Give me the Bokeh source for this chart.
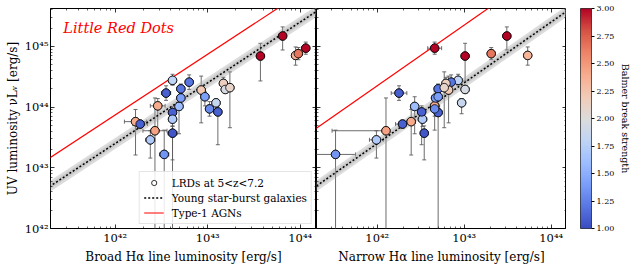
import numpy as np
from bokeh.plotting import figure
from bokeh.models import (LogAxis, FixedTicker, CustomJSTickFormatter, ColumnDataSource,
                          Whisker, TeeHead, LinearColorMapper, Legend, LegendItem, Label,
                          NumeralTickFormatter)
from bokeh.layouts import row
from bokeh.transform import linear_cmap
from bokeh.embed import file_html
from bokeh.resources import INLINE

# ---------------- data (log10 of luminosities in erg/s) ----------------
log_uv = [43.76, 43.72, 44.02, 43.61, 44.23, 44.44, 43.91, 43.80, 43.57, 44.01,
          44.15, 44.30, 44.41, 44.28, 44.17, 43.97, 44.07, 43.92, 44.39, 44.29,
          44.32, 44.84, 45.17, 44.85, 44.88, 44.97, 43.46, 43.22]
uv_err_lo = [0.55, 0.06, 0.40, 2.00, 0.12, 0.08, 2.00, 0.12, 0.44, 0.45,
             0.10, 0.08, 0.12, 0.54, 0.15, 0.12, 0.18, 0.54, 0.10, 0.06,
             0.66, 0.41, 0.23, 0.16, 0.10, 0.10, 0.30, 2.00]
uv_err_hi = [0.20, 0.06, 0.12, 0.54, 0.12, 0.10, 0.10, 0.12, 0.12, 0.16,
             0.10, 0.08, 0.12, 0.23, 0.08, 0.12, 0.07, 0.10, 0.10, 0.06,
             0.26, 0.21, 0.15, 0.14, 0.10, 0.10, 0.15, 0.40]
log_broad = [42.22, 42.27, 42.46, 42.43, 42.55, 42.62, 42.62, 42.62, 42.62, 42.69,
             42.71, 42.71, 42.80, 42.93, 42.97, 43.02, 43.09, 43.11, 43.17, 43.19,
             43.24, 43.57, 43.81, 43.95, 43.98, 44.06, 42.38, 42.53]
broad_err = [0.12, 0.08, 0.08, 0.13, 0.05, 0.04, 0.04, 0.04, 0.05, 0.04,
             0.04, 0.04, 0.04, 0.04, 0.04, 0.04, 0.04, 0.04, 0.04, 0.04,
             0.04, 0.04, 0.04, 0.04, 0.04, 0.04, 0.05, 0.05]
log_narrow = [42.39, 42.29, 42.66, 42.10, 42.25, 42.93, 42.70, 42.52, 42.54, 42.43,
              42.67, 42.70, 42.85, 42.82, 42.70, 42.66, 42.97, 42.51, 42.79, 43.01,
              42.77, 43.01, 43.49, 43.73, 43.31, 42.66, 41.99, 41.52]
narrow_err_lo = [0.05, 0.08, 0.05, 0.62, 0.09, 0.04, 0.04, 0.05, 0.04, 0.04,
                 0.04, 0.04, 0.04, 0.04, 0.04, 0.04, 0.04, 0.04, 0.04, 0.04,
                 0.04, 0.04, 0.04, 0.04, 0.04, 0.08, 0.08, 1.00]
narrow_err_hi = [0.05, 0.08, 0.05, 0.04, 0.09, 0.04, 0.04, 0.05, 0.04, 0.04,
                 0.04, 0.04, 0.04, 0.04, 0.04, 0.04, 0.04, 0.04, 0.04, 0.04,
                 0.04, 0.04, 0.04, 0.04, 0.04, 0.08, 0.08, 0.23]
balmer = [2.40, 1.10, 2.40, 2.45, 1.10, 1.80, 1.10, 1.70, 1.05, 1.60,
          1.40, 1.20, 1.20, 2.20, 1.40, 1.30, 1.85, 1.10, 2.15, 1.95,
          2.10, 3.00, 3.00, 2.35, 2.65, 3.00, 1.70, 1.35]

# relations: log L_UV = log L_Halpha + offset
starburst_offset = 1.40
starburst_width = 0.09
agn_offset_broad = 1.87
agn_offset_narrow = 2.35

x_major = [1e42, 1e43, 1e44]
y_major = [1e42, 1e43, 1e44, 1e45]
cbar_ticks = [1.00, 1.25, 1.50, 1.75, 2.00, 2.25, 2.50, 2.75, 3.00]
x_lim = (2e41, 1.5e44)
y_lim = (1e42, 4.2e45)

FONT = "DejaVu Serif"

# matplotlib coolwarm (11 samples) -> 256 colours
cw = ['#3b4cc0', '#5977e3', '#7b9ff9', '#9ebeff', '#c0d4f5', '#dddcdc',
      '#f2cbb7', '#f7ac8e', '#ee8468', '#d65244', '#b40426']
def _rgb(h):
    return np.array([int(h[i:i + 2], 16) for i in (1, 3, 5)], float)
anch = np.array([_rgb(h) for h in cw])
pos = np.linspace(0, 1, len(cw))
t = np.linspace(0, 1, 256)
coolwarm = ['#%02x%02x%02x' % tuple(int(round(np.interp(v, pos, anch[:, k]))) for k in range(3)) for v in t]
mapper = LinearColorMapper(palette=coolwarm, low=1.0, high=3.0)

minor = [k * 10.0 ** n for n in range(40, 47) for k in range(2, 10)]

sup_code = """
const sup = {"0":"\u2070","1":"\u00b9","2":"\u00b2","3":"\u00b3","4":"\u2074","5":"\u2075","6":"\u2076","7":"\u2077","8":"\u2078","9":"\u2079","-":"\u207b"};
const e = Math.round(Math.log10(tick));
return "10" + String(e).split("").map(c => sup[c]).join("");
"""

H = 266
TOP = 8
BOTTOM = 37


def style_axis(ax, ticks, labels=True):
    ax.ticker = FixedTicker(ticks=ticks, minor_ticks=minor)
    ax.major_tick_in = 4
    ax.major_tick_out = 0
    ax.minor_tick_in = 2
    ax.minor_tick_out = 0
    ax.axis_line_color = None
    ax.major_tick_line_color = "black"
    ax.minor_tick_line_color = "black"
    ax.major_tick_line_width = 0.8
    ax.minor_tick_line_width = 0.6
    if labels:
        ax.formatter = CustomJSTickFormatter(code=sup_code)
        ax.major_label_text_font = FONT
        ax.major_label_text_font_size = "11.5px"
        ax.major_label_text_color = "black"
        ax.major_label_standoff = 2
        ax.axis_label_text_font = FONT
        ax.axis_label_text_font_size = "12px"
        ax.axis_label_text_font_style = "normal"
        ax.axis_label_text_color = "black"
        ax.axis_label_standoff = 2
    else:
        ax.formatter = CustomJSTickFormatter(code="return ''")
        ax.major_label_text_font_size = "0px"
        ax.major_label_standoff = 0


def make_panel(log_x, xerr_lo, xerr_hi, agn_offset, xlabel, width, left_border, ylabel=None):
    p = figure(width=width, height=H, x_axis_type="log", y_axis_type="log",
               x_range=x_lim, y_range=y_lim, toolbar_location=None, output_backend="svg",
               min_border_left=left_border, min_border_right=0, min_border_top=TOP,
               min_border_bottom=BOTTOM)
    p.grid.visible = False
    p.outline_line_color = "black"
    p.outline_line_width = 1
    p.background_fill_color = "white"
    p.border_fill_color = "white"

    style_axis(p.xaxis[0], x_major, True)
    p.xaxis[0].axis_label = xlabel
    style_axis(p.yaxis[0], y_major, ylabel is not None)
    if ylabel:
        p.yaxis[0].axis_label = ylabel
    top = LogAxis()
    style_axis(top, x_major, False)
    p.add_layout(top, "above")
    right = LogAxis()
    style_axis(right, y_major, False)
    p.add_layout(right, "right")

    lx = np.array(log_x)
    ly = np.array(log_uv)
    # model lines over the full x range
    xs = np.array([x_lim[0] * 0.5, x_lim[1] * 2])
    lxs = np.log10(xs)
    p.varea(x=xs, y1=10 ** (lxs + starburst_offset - starburst_width),
            y2=10 ** (lxs + starburst_offset + starburst_width), fill_color="#9a9a9a", fill_alpha=0.35)
    p.varea(x=xs, y1=10 ** (lxs + starburst_offset - starburst_width / 2),
            y2=10 ** (lxs + starburst_offset + starburst_width / 2), fill_color="#9a9a9a", fill_alpha=0.3)
    sb = p.line(x=xs, y=10 ** (lxs + starburst_offset), line_color="black", line_width=1.5,
                line_dash="2 2")
    agn = p.line(x=xs, y=10 ** (lxs + agn_offset), line_color="#ff0000", line_width=1.2)

    src = ColumnDataSource(dict(
        x=10 ** lx, y=10 ** ly,
        xlo=10 ** (lx - np.array(xerr_lo)), xhi=10 ** (lx + np.array(xerr_hi)),
        ylo=10 ** (ly - np.array(uv_err_lo)), yhi=10 ** (ly + np.array(uv_err_hi)),
        c=balmer))
    ec = "#5c5c5c"
    for dim, base, lo, hi in (("height", "x", "ylo", "yhi"), ("width", "y", "xlo", "xhi")):
        w = Whisker(source=src, base=base, lower=lo, upper=hi, dimension=dim,
                    line_color=ec, line_width=0.9,
                    upper_head=TeeHead(size=4, line_color=ec, line_width=0.9),
                    lower_head=TeeHead(size=4, line_color=ec, line_width=0.9))
        p.add_layout(w)
    # open-circle layer (legend symbol), hidden under the coloured markers
    openc = p.scatter(x="x", y="y", source=src, size=8.5, marker="circle",
                      fill_color="white", line_color="black", line_width=0.8)
    p.scatter(x="x", y="y", source=src, size=8.5, marker="circle",
              fill_color=linear_cmap("c", coolwarm, 1.0, 3.0), line_color="black", line_width=0.8)
    return p, sb, agn, openc


left, sb_l, agn_l, open_l = make_panel(log_broad, broad_err, broad_err, agn_offset_broad,
                                       "Broad H\u03b1 line luminosity [erg/s]", 316, 50,
                                       ylabel="UV luminosity \u03bdL\u1d65 [erg/s]")
right, _, _, _ = make_panel(log_narrow, narrow_err_lo, narrow_err_hi, agn_offset_narrow,
                            "Narrow H\u03b1 line luminosity [erg/s]", 250, 0)

left.add_layout(Label(x=2.75e41, y=2.75e45, text="Little Red Dots", text_color="#ff0000",
                      text_font=FONT, text_font_style="italic", text_font_size="14.5px",
                      text_baseline="top"))

# legend
legend = Legend(items=[LegendItem(label="LRDs at 5<z<7.2", renderers=[open_l]),
                       LegendItem(label="Young star-burst galaxies", renderers=[sb_l]),
                       LegendItem(label="Type-1 AGNs", renderers=[agn_l])],
                location="bottom_right")
legend.label_text_font = FONT
legend.label_text_font_size = "10.5px"
legend.label_text_color = "black"
legend.glyph_width = 20
legend.glyph_height = 13
legend.label_height = 13
legend.label_standoff = 8
legend.spacing = 2
legend.padding = 4
legend.margin = 4
legend.border_line_color = "#cccccc"
legend.background_fill_alpha = 0.85
left.add_layout(legend, "center")

# colour bar
cb = figure(width=68, height=H, x_range=(0, 1), y_range=(cbar_ticks[0], cbar_ticks[-1]),
            toolbar_location=None, output_backend="svg", y_axis_location="right",
            min_border_left=14, min_border_right=0, min_border_top=TOP, min_border_bottom=BOTTOM)
cb.grid.visible = False
cb.xaxis.visible = False
cb.outline_line_color = "#333333"
cb.image(image=[np.linspace(cbar_ticks[0], cbar_ticks[-1], 256).reshape(256, 1)],
         x=0, y=cbar_ticks[0], dw=1, dh=cbar_ticks[-1] - cbar_ticks[0], color_mapper=mapper)
ax = cb.yaxis[0]
ax.ticker = FixedTicker(ticks=cbar_ticks)
ax.formatter = NumeralTickFormatter(format="0.00")
ax.major_tick_out = 3
ax.major_tick_in = 0
ax.minor_tick_out = 0
ax.axis_line_color = None
ax.major_tick_line_color = "black"
ax.major_label_text_font = FONT
ax.major_label_text_font_size = "8px"
ax.major_label_text_color = "black"
ax.major_label_standoff = 2
ax.axis_label = "Balmer break strength"
ax.axis_label_text_font = FONT
ax.axis_label_text_font_size = "9.5px"
ax.axis_label_text_font_style = "normal"
ax.axis_label_text_color = "black"
ax.axis_label_standoff = 3

layout = row(left, right, cb)
open("out.html", "w").write(file_html(layout, INLINE))
